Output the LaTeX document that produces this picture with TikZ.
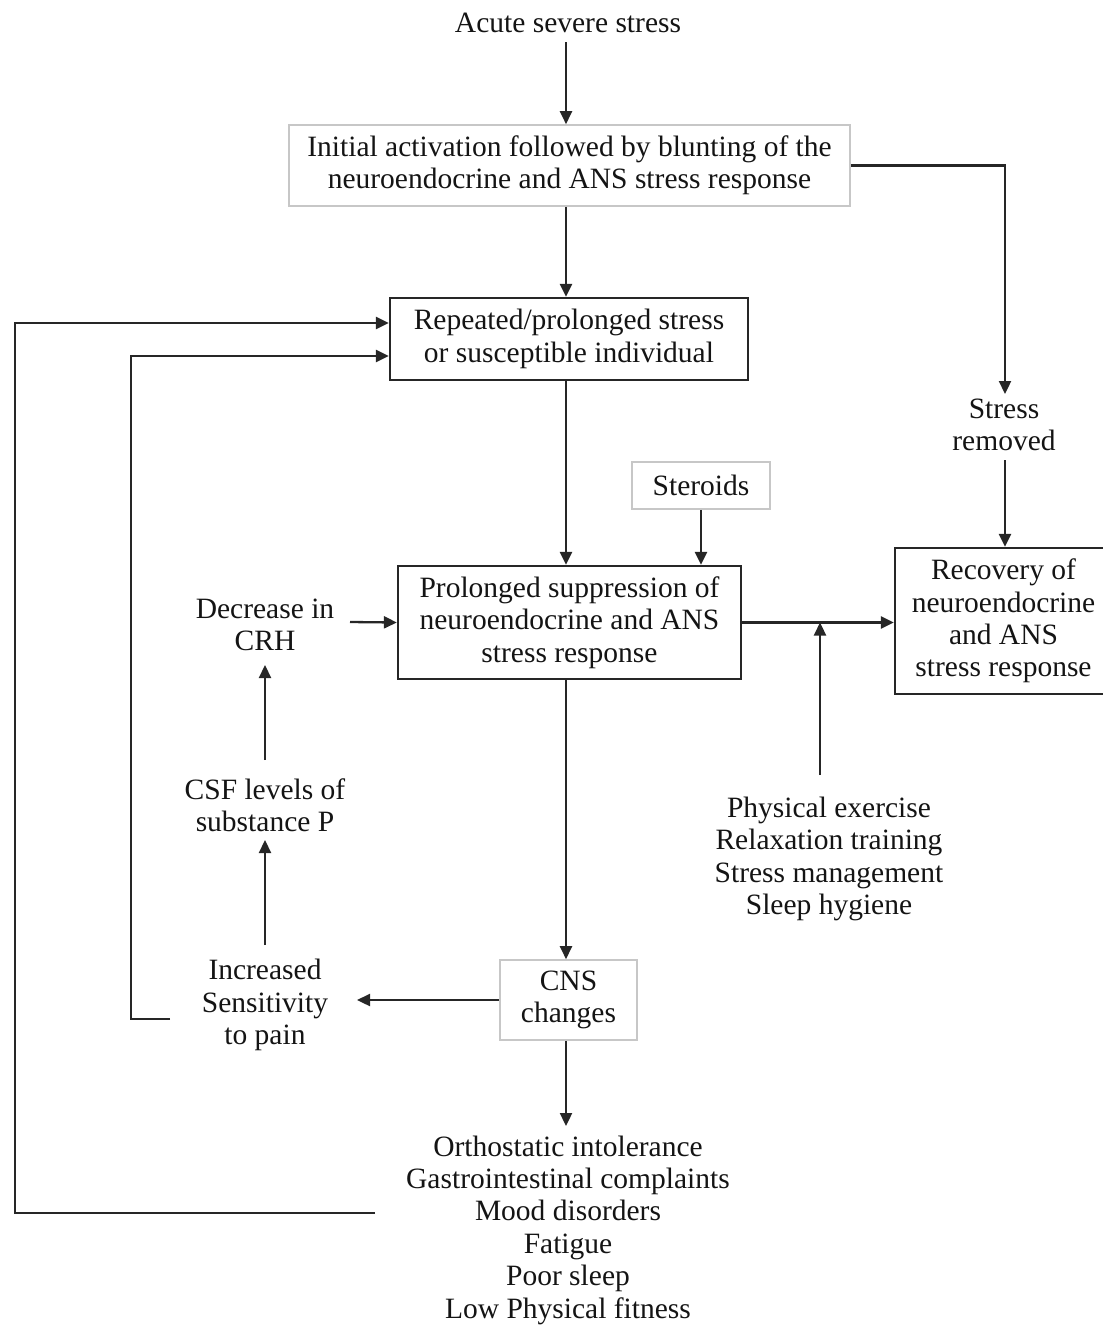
\documentclass[tikz,border=0pt]{standalone}
\usepackage{fontspec}
\setmainfont{Liberation Serif}
\usetikzlibrary{arrows.meta,calc}
\begin{document}
\begin{tikzpicture}[x=1pt,y=-1pt,
 txt/.style={font=\fontsize{29.5}{32.4}\selectfont, align=center, inner sep=0pt, text=black!92},
 bbox/.style={txt, draw=black!85, line width=2.3pt},
 gbox/.style={txt, draw=black!22, line width=1.6pt},
 arr/.style={line width=2.3pt, draw=black!85, -{Triangle[length=13pt,width=12pt]}},
 ln/.style={line width=2.3pt, draw=black!85}]
\useasboundingbox (0,0) rectangle (1103,1326);
\coordinate (cx) at (566,0);

\node[txt] (acute) at (568,23) {Acute severe stress};
\node[gbox, minimum width=561pt, minimum height=81pt] (init) at (569.5,165.5) {Initial activation followed by blunting of the\\neuroendocrine and ANS stress response};
\node[bbox, minimum width=358pt, minimum height=82pt] (rep) at (569,339) {Repeated/prolonged stress\\or susceptible individual};
\node[txt] (removed) at (1004,425) {Stress\\removed};
\node[gbox, minimum width=138pt, minimum height=47pt] (ster) at (701,485.5) {Steroids};
\node[bbox, minimum width=343pt, minimum height=113pt] (prol) at (569.5,622.5) {Prolonged suppression of\\neuroendocrine and ANS\\stress response};
\node[bbox, minimum width=217pt, minimum height=146pt] (rec) at (1003.5,621) {Recovery of\\neuroendocrine\\and ANS\\stress response};
\node[txt] (crh) at (265,625) {Decrease in\\CRH};
\node[txt] (csf) at (265,805) {CSF levels of\\substance P};
\node[txt] (pain) at (265,1005) {Increased\\Sensitivity\\to pain};
\node[txt] (ex) at (829,859) {Physical exercise\\Relaxation training\\Stress management\\Sleep hygiene};
\node[gbox, minimum width=137pt, minimum height=80pt] (cns) at (568.5,1000) {CNS\\changes};
\node[txt] (sym) at (568,1230) {Orthostatic intolerance\\Gastrointestinal complaints\\Mood disorders\\Fatigue\\Poor sleep\\Low Physical fitness};

\coordinate (exbot) at (820,775);
\coordinate (o1) at (15,1213);
\coordinate (o2) at (375,1213);
\coordinate (i1) at (131,1019);
\coordinate (i2) at (170,1019);

\draw[arr] (566,42) -- (init.north -| cx);
\draw[arr] (init.south -| cx) -- (rep.north -| cx);
\draw[arr] (init.east) -| (1005,394);
\draw[arr] (1005,460) -- (rec.north -| 1005,0);
\draw[arr] (rep.south -| cx) -- (prol.north -| cx);
\draw[arr] (ster.south) -- (prol.north -| ster.south);
\draw[arr] (prol.east) -- (prol.east -| rec.west);
\draw[arr] (exbot) -- (exbot |- prol.east);
\draw[arr] (350,622) -- (prol.west);
\draw[arr] (265,760) -- (265,665);
\draw[arr] (265,945) -- (265,840);
\draw[arr] (cns.west) -- (357,1000);
\draw[arr] (prol.south -| cx) -- (cns.north -| cx);
\draw[arr] (cns.south -| cx) -- (566,1126);
\draw[arr] (o2) -- (o1) |- ($(rep.west)+(0,-16)$);
\draw[arr] (i2) -- (i1) |- ($(rep.west)+(0,17)$);
\end{tikzpicture}
\end{document}
